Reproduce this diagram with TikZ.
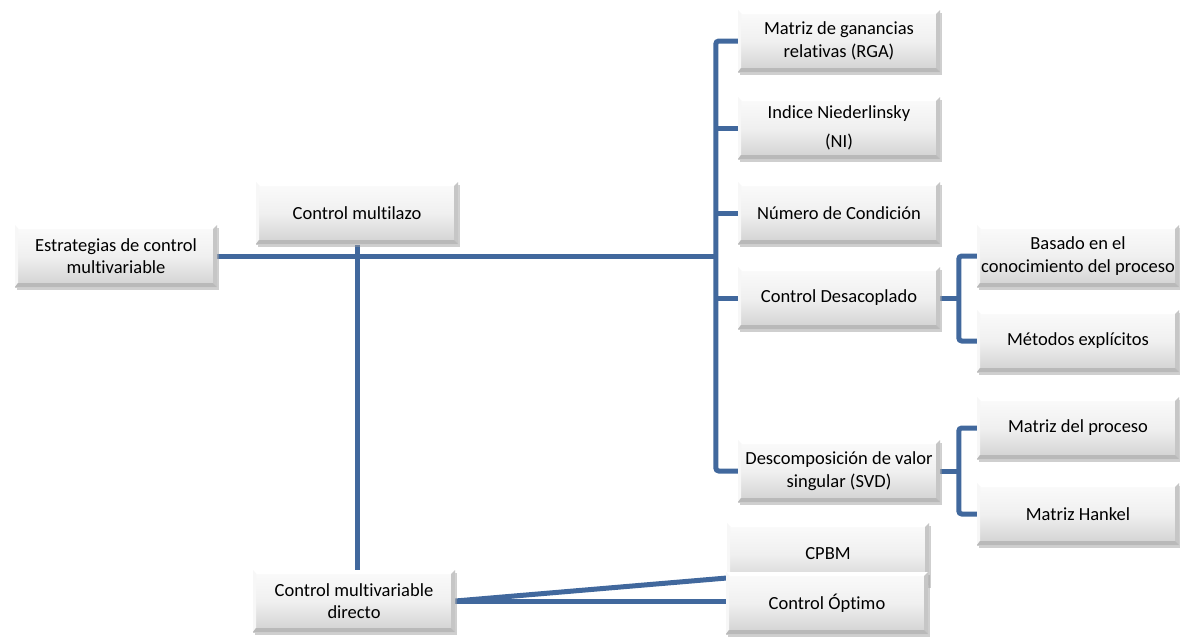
\documentclass[tikz,border=0pt]{standalone}
\usepackage{fontspec}
\setmainfont{Carlito}[Ligatures=CommonOff]
\usetikzlibrary{shadows,backgrounds}
\definecolor{linkblue}{RGB}{65,104,157}
\tikzset{
  bevel/.style={path picture={
    \coordinate (ne) at (path picture bounding box.north east);
    \coordinate (se) at (path picture bounding box.south east);
    \coordinate (sw) at (path picture bounding box.south west);
    \coordinate (nw) at (path picture bounding box.north west);
    % light top and left edges
    \fill[white] (nw) -- (ne) -- ([xshift=-4pt,yshift=-4pt]ne) -- ([xshift=4pt,yshift=-4pt]nw) -- cycle;
    \fill[gray!6] (nw) -- (sw) -- ([xshift=3pt,yshift=4pt]sw) -- ([xshift=3pt,yshift=-4pt]nw) -- cycle;
    % darker right and bottom edges
    \fill[gray!45] (ne) -- (se) -- ([xshift=-4pt,yshift=4pt]se) -- ([xshift=-4pt,yshift=-4pt]ne) -- cycle;
    \fill[gray!55] (sw) -- (se) -- ([xshift=-4pt,yshift=4pt]se) -- ([xshift=3pt,yshift=4pt]sw) -- cycle;
  }},
  box/.style={rectangle, minimum width=202pt, minimum height=62pt, inner sep=0pt,
    align=center, font=\fontsize{18.5}{22.5}\selectfont,
    top color=gray!3, bottom color=gray!36, middle color=gray!12,
    bevel,
    drop shadow={shadow xshift=2pt, shadow yshift=-3pt, opacity=0.5, fill=gray!75}},
  conn/.style={draw=linkblue, line width=5pt, rounded corners=3pt}
}
\begin{document}
\begin{tikzpicture}[x=1pt,y=-1pt]
\useasboundingbox (0,0) rectangle (1180,637);
% first level
\node[box] (est) at (116,256) {Estrategias de control\\multivariable};
\node[box] (mlz) at (357,213) {Control multilazo};
\node[box] (dir) at (354,601) {Control multivariable\\directo};
% multiloop methods
\node[box] (rga) at (839,41) {Matriz de ganancias\\relativas (RGA)};
\node[box] (ni) at (839,128) {Indice Niederlinsky\\[7pt](NI)};
\node[box] (cond) at (839,213) {Número de Condición};
\node[box] (desac) at (839,298) {Control Desacoplado};
\node[box] (svd) at (839,471) {Descomposición de valor\\singular (SVD)};
% second-level methods
\node[box] (bas) at (1078,256) {Basado en el\\conocimiento del proceso};
\node[box] (met) at (1078,341) {Métodos explícitos};
\node[box] (mp) at (1078,428) {Matriz del proceso};
\node[box] (hank) at (1078,514) {Matriz Hankel};
% direct multivariable methods
\node[box] (cpbm) at (828,554) {CPBM};
\node[box] (opt) at (827,603) {Control Óptimo};
\coordinate (trunk) at (716,256);
\begin{scope}[on background layer]
  \draw[conn] (est.east) -- (trunk);
  \draw[conn] (mlz.south) -- (mlz.south |- dir.north);
  \draw[conn] (rga.west) -- ++(-22,0) |- (svd.west);
  \draw[conn] (ni.west) -- ++(-22,0);
  \draw[conn] (cond.west) -- ++(-22,0);
  \draw[conn] (desac.west) -- ++(-22,0);
  \draw[conn] (desac.east) -- ++(20,0);
  \draw[conn] (bas.west) -- ++(-18,0) |- (met.west);
  \draw[conn] (svd.east) -- ++(20,0);
  \draw[conn] (mp.west) -- ++(-18,0) |- (hank.west);
  \draw[conn, rounded corners=0pt] (dir.east) -- ([yshift=-24pt]cpbm.west);
  \draw[conn, rounded corners=0pt] (dir.east) -- (dir.east -| opt.west);
\end{scope}
\end{tikzpicture}
\end{document}
